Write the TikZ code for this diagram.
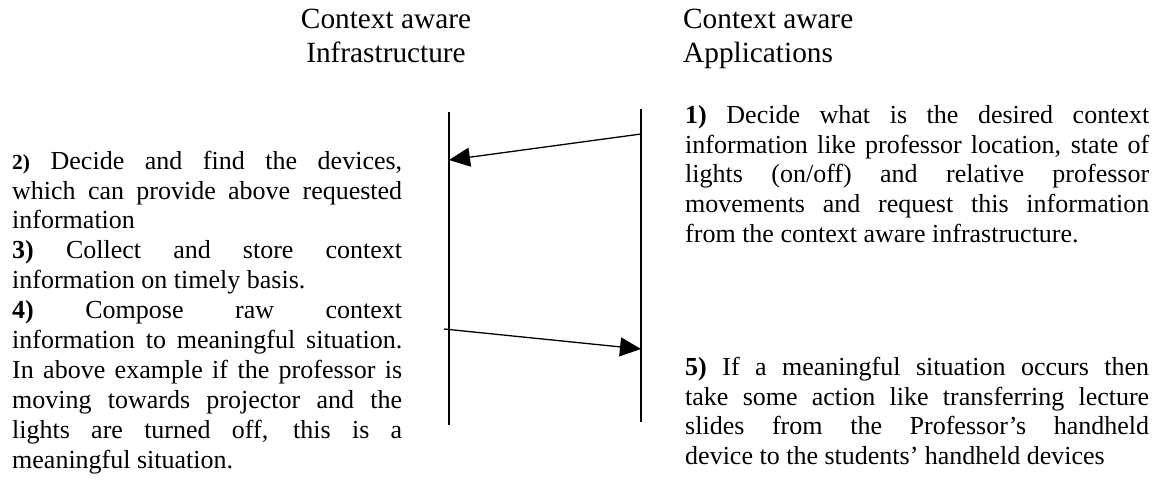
\documentclass[tikz,border=0pt]{standalone}
\usepackage{fontspec}
\setmainfont{Liberation Serif}
\usetikzlibrary{arrows.meta}
\tolerance=10000
\hbadness=10000
\hyphenpenalty=10000
\tikzset{
  body/.style={inner sep=0pt, anchor=north west, align=justify,
    font=\fontsize{26}{29.9}\selectfont},
  title/.style={inner sep=0pt, anchor=north,
    font=\fontsize{29.3}{34.5}\selectfont},
  lifeline/.style={line width=1.6pt},
  msg/.style={line width=1.3pt, -{Triangle[length=21pt,width=19pt]}}
}
\begin{document}
\begin{tikzpicture}[x=1pt,y=-1pt]
\useasboundingbox (0,0) rectangle (1157,482);
% titles
\node[title, align=center] (t1) at (386,3.85) {\strut Context aware\\Infrastructure};
\node[title, align=left, anchor=north west] (t2) at (683,3.85) {\strut Context aware\\Applications};
% lifelines
\coordinate (l1top) at (449,112);
\coordinate (l1bot) at (449,425);
\coordinate (l2top) at (641,109);
\coordinate (l2bot) at (641,422);
\draw[lifeline] (l1top) -- (l1bot);
\draw[lifeline] (l2top) -- (l2bot);
% messages
\coordinate (m1s) at (641,134);
\coordinate (m1e) at (449,160);
\coordinate (m2s) at (444,329);
\coordinate (m2e) at (641,349);
\draw[msg] (m1s) -- (m1e);
\draw[msg] (m2s) -- (m2e);
% texts
\node[body, text width=390pt] (left) at (12,148) {\strut{\bfseries\fontsize{21.5}{21.5}\selectfont 2)} Decide and find the devices,\linebreak which can provide above requested\linebreak information\par
{\bfseries 3)} Collect and store context\linebreak information on timely basis.\par
{\bfseries 4)} Compose raw context\linebreak information to meaningful situation.\linebreak In above example if the professor is\linebreak moving towards projector and the\linebreak lights are turned off, this is a\linebreak meaningful situation.};
\node[body, text width=464pt] (r1) at (685,102) {\strut{\bfseries 1)} Decide what is the desired context\linebreak information like professor location, state of\linebreak lights (on/off) and relative professor\linebreak movements and request this information\linebreak from the context aware infrastructure.};
\node[body, text width=464pt] (r5) at (685,354) {\strut{\bfseries 5)} If a meaningful situation occurs then\linebreak take some action like transferring lecture\linebreak slides from the Professor's handheld\linebreak device to the students' handheld devices};
\end{tikzpicture}
\end{document}
